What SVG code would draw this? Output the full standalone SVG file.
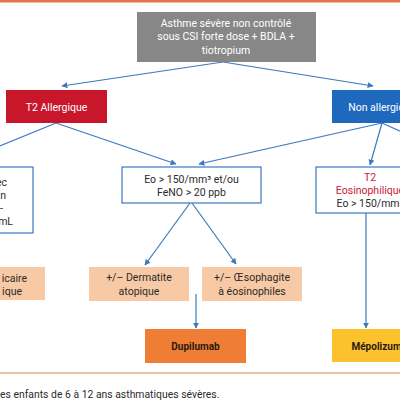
<svg xmlns="http://www.w3.org/2000/svg" width="400" height="400" viewBox="0 0 400 400">
<defs>
<marker id="ah" viewBox="0 0 10 10" refX="9" refY="5" markerWidth="6" markerHeight="6" markerUnits="userSpaceOnUse" orient="auto">
<path d="M0,0 L10,5 L0,10 z" fill="#3b78bd"/>
</marker>
<style>
text{font-family:Roboto,"Liberation Sans",sans-serif;font-size:10.5px;}
.w{fill:#ffffff;}
.d{fill:#2b2b2b;}
.r{fill:#c8203a;}
.b{font-weight:bold;fill:#2a1a10;font-size:10px;}
.c{stroke:#3b78bd;stroke-width:1.2;fill:none;}
.ca{stroke:#3b78bd;stroke-width:1.2;fill:none;marker-end:url(#ah);}
.box{fill:#ffffff;stroke:#3b78bd;stroke-width:1.2;}
.peach{fill:#f8c9a5;}
</style>
</defs>
<rect x="0" y="0" width="400" height="400" fill="#ffffff"/>
<rect x="0" y="0" width="400" height="2.5" fill="#e8734a"/>
<line x1="0" y1="5" x2="400" y2="5" stroke="#eeeeee" stroke-width="0.8"/>
<line x1="0" y1="373" x2="400" y2="373" stroke="#e0804f" stroke-width="1"/>

<g id="connectors">
<line class="ca" x1="223" y1="62" x2="62" y2="86"/>
<line class="ca" x1="223" y1="62" x2="373" y2="86"/>
<line class="c" x1="56" y1="123" x2="-10" y2="150"/>
<line class="ca" x1="56" y1="123" x2="176" y2="164"/>
<line class="ca" x1="382" y1="123" x2="199" y2="164"/>
<line class="ca" x1="382" y1="123" x2="370" y2="165"/>
<line class="c" x1="382" y1="123" x2="420" y2="140"/>
<line class="ca" x1="190" y1="203" x2="145" y2="265"/>
<line class="ca" x1="192" y1="203" x2="236" y2="264"/>
<line class="ca" x1="196" y1="294" x2="196" y2="328"/>
<line class="ca" x1="366" y1="213" x2="366" y2="328"/>
</g>

<g id="root">
<rect x="137" y="12" width="179" height="50" fill="#878787"/>
<text class="w" x="226" y="27" text-anchor="middle">Asthme sévère non contrôlé</text>
<text class="w" x="226" y="40" text-anchor="middle">sous CSI forte dose + BDLA +</text>
<text class="w" x="226" y="54" text-anchor="middle">tiotropium</text>
</g>

<g id="t2-allergique">
<rect x="6" y="90" width="101" height="33" fill="#c8172b"/>
<text class="w" x="56.5" y="111" text-anchor="middle">T2 Allergique</text>
</g>

<g id="non-allergique">
<rect x="332" y="90" width="100" height="33" fill="#1e69bd"/>
<text class="w" x="382" y="111" text-anchor="middle">Non allergique</text>
</g>

<g id="left-criteria">
<rect x="-20" y="167" width="53" height="66" class="box"/>
<text class="d" x="7" y="186" text-anchor="end">ec</text>
<text class="d" x="6" y="199" text-anchor="end">n</text>
<text class="d" x="3" y="212" text-anchor="end">-</text>
<text class="d" x="13" y="225" text-anchor="end">mL</text>
</g>

<g id="eo-feno">
<rect x="122" y="167" width="139" height="36" class="box"/>
<text class="d" x="191.5" y="183" text-anchor="middle">Eo &gt; 150/mm³ et/ou</text>
<text class="d" x="191.5" y="196" text-anchor="middle">FeNO &gt; 20 ppb</text>
</g>

<g id="t2-eosinophilique">
<rect x="316" y="167" width="108" height="46" class="box"/>
<text class="r" x="370" y="181" text-anchor="middle">T2</text>
<text class="r" x="370" y="194" text-anchor="middle">Eosinophilique</text>
<text class="d" x="370" y="207" text-anchor="middle">Eo &gt; 150/mm³</text>
</g>

<g id="left-peach">
<rect x="-20" y="267" width="65" height="33" class="peach"/>
<text class="d" x="27" y="282" text-anchor="end">icaire</text>
<text class="d" x="22" y="295" text-anchor="end">ique</text>
</g>

<g id="dermatite">
<rect x="89" y="267" width="100" height="34" class="peach"/>
<text class="d" x="139" y="281" text-anchor="middle">+/– Dermatite</text>
<text class="d" x="139" y="294.5" text-anchor="middle">atopique</text>
</g>

<g id="oesophagite">
<rect x="202" y="267" width="100" height="34" class="peach"/>
<text class="d" x="252" y="281" text-anchor="middle">+/– Œsophagite</text>
<text class="d" x="252" y="294.5" text-anchor="middle">à éosinophiles</text>
</g>

<g id="dupilumab">
<rect x="145" y="329" width="101" height="34" fill="#ef7d35"/>
<text class="b" x="195.5" y="350" text-anchor="middle">Dupilumab</text>
</g>

<g id="mepolizumab">
<rect x="332" y="329" width="100" height="33" fill="#fbc22e"/>
<text class="b" x="382" y="349.5" text-anchor="middle">Mépolizumab</text>
</g>

<text class="d" x="0" y="398" style="font-size:10.4px">es enfants de 6 à 12 ans asthmatiques sévères.</text>
</svg>
